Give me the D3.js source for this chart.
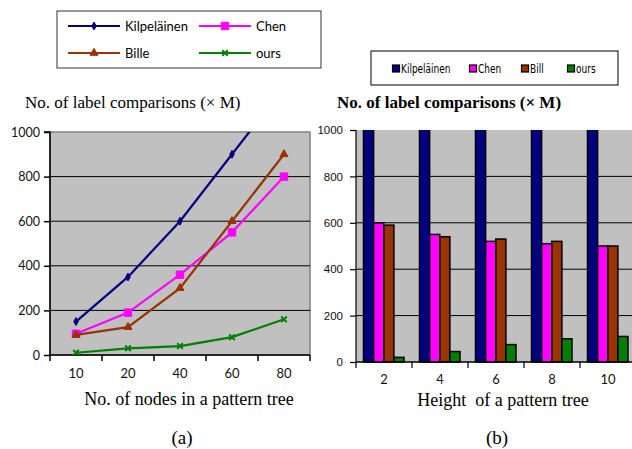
<!DOCTYPE html>
<html>
<head>
<meta charset="utf-8">
<script src="https://cdn.jsdelivr.net/npm/d3@7"></script>
<style>
  body { margin: 0; background: #fff; }
  .tick text { fill: #111; }
</style>
</head>
<body>
<script>

// Chart (a) data
const nodeLabels = ['10', '20', '40', '60', '80']
const kilpelainenA = [150, 350, 600, 900, 1200]
const chenA = [95, 190, 360, 550, 800]
const billeA = [90, 125, 300, 600, 900]
const oursA = [10, 30, 40, 80, 160]

// Chart (b) data
const heightLabels = ['2', '4', '6', '8', '10']
const kilpelainenB = [1200, 1200, 1200, 1200, 1200]
const chenB = [600, 550, 520, 510, 500]
const billB = [590, 540, 530, 520, 500]
const oursB = [20, 45, 75, 100, 110]

const yTicks = [0, 200, 400, 600, 800, 1000]

const seriesA = [
    { name: 'Kilpeläinen', values: kilpelainenA, color: '#000080', symbol: d3.symbolDiamond, size: 18 },
    { name: 'Chen', values: chenA, color: '#ff00ff', symbol: d3.symbolSquare, size: 55 },
    { name: 'Bille', values: billeA, color: '#993300', symbol: d3.symbolTriangle, size: 28 },
    { name: 'ours', values: oursA, color: '#008000', symbol: d3.symbolTimes, size: 22 }
]

const seriesB = [
    { name: 'Kilpeläinen', values: kilpelainenB, color: '#000080' },
    { name: 'Chen', values: chenB, color: '#ff00ff' },
    { name: 'Bill', values: billB, color: '#993300' },
    { name: 'ours', values: oursB, color: '#008000' }
]

const w = 632
const h = 449
const serif = "'Liberation Serif', serif"
const sans = "Lato, sans-serif"

const svg = d3.select('body')
    .append('svg')
        .attr('width', w)
        .attr('height', h)

// ---------- Chart (a): line chart ----------

const plotA = { left: 50, right: 310, top: 132, bottom: 355 }

const xA = d3.scaleBand()
    .domain(nodeLabels)
    .range([plotA.left, plotA.right])

const yA = d3.scaleLinear()
    .domain([0, 1000])
    .range([plotA.bottom, plotA.top])

svg.append('clipPath')
    .attr('id', 'clip-a')
    .append('rect')
        .attr('x', plotA.left)
        .attr('y', plotA.top)
        .attr('width', plotA.right - plotA.left)
        .attr('height', plotA.bottom - plotA.top)

svg.append('rect')
    .attr('x', plotA.left)
    .attr('y', plotA.top)
    .attr('width', plotA.right - plotA.left)
    .attr('height', plotA.bottom - plotA.top)
    .attr('fill', '#c0c0c0')
    .attr('stroke', '#808080')
    .attr('stroke-width', 1.5)

svg.append('g')
    .selectAll('line')
    .data(yTicks.filter(t => t > 0 && t < 1000))
    .enter()
    .append('line')
        .attr('x1', plotA.left)
        .attr('x2', plotA.right)
        .attr('y1', d => yA(d))
        .attr('y2', d => yA(d))
        .attr('stroke', '#000')
        .attr('stroke-width', 1)

const yAxisA = svg.append('g')
    .attr('transform', `translate(${plotA.left}, 0)`)
    .call(d3.axisLeft(yA).tickValues(yTicks).tickFormat(d3.format('d')).tickSize(6).tickPadding(4))
yAxisA.selectAll('text').style('font-family', sans).style('font-size', '12.5px')
yAxisA.selectAll('line, path').attr('stroke', '#000').attr('stroke-width', 1.5)
yAxisA.select('.domain').attr('d', `M-6,${plotA.top}H0V${plotA.bottom}`)

const xAxisA = svg.append('g')
    .attr('transform', `translate(0, ${plotA.bottom})`)
    .call(d3.axisBottom(xA).tickSize(0).tickPadding(14))
xAxisA.selectAll('text').style('font-family', sans).style('font-size', '13px')
xAxisA.select('.domain').attr('stroke', '#000').attr('stroke-width', 1.5)
    .attr('d', `M${plotA.left},0H${plotA.right}`)
xAxisA.selectAll('.band-tick')
    .data(d3.range(nodeLabels.length + 1))
    .enter()
    .append('line')
        .attr('class', 'band-tick')
        .attr('x1', i => plotA.left + i * xA.step())
        .attr('x2', i => plotA.left + i * xA.step())
        .attr('y1', 0)
        .attr('y2', 6)
        .attr('stroke', '#000')
        .attr('stroke-width', 1.5)

const line = d3.line()
    .x((d, i) => xA(nodeLabels[i]) + xA.bandwidth() / 2)
    .y(d => yA(d))

const linesA = svg.append('g').attr('clip-path', 'url(#clip-a)')

seriesA.forEach(s => {
    linesA.append('path')
        .datum(s.values)
        .attr('d', line)
        .attr('fill', 'none')
        .attr('stroke', s.color)
        .attr('stroke-width', 2.2)

    linesA.selectAll(null)
        .data(s.values)
        .enter()
        .append('path')
            .attr('transform', (d, i) => `translate(${xA(nodeLabels[i]) + xA.bandwidth() / 2}, ${yA(d)})`)
            .attr('d', d3.symbol().type(s.symbol).size(s.size))
            .attr('fill', s.symbol === d3.symbolTimes ? 'none' : s.color)
            .attr('stroke', s.color)
            .attr('stroke-width', s.symbol === d3.symbolTimes ? 2 : 1)
})

svg.append('text')
    .attr('x', 25)
    .attr('y', 108)
    .style('font-family', serif)
    .style('font-size', '17px')
    .text('No. of label comparisons (× M)')

svg.append('text')
    .attr('x', 189)
    .attr('y', 405)
    .attr('text-anchor', 'middle')
    .style('font-family', serif)
    .style('font-size', '18px')
    .text('No. of nodes in a pattern tree')

svg.append('text')
    .attr('x', 182)
    .attr('y', 444)
    .attr('text-anchor', 'middle')
    .style('font-family', serif)
    .style('font-size', '19px')
    .text('(a)')

// legend (a)
const legendA = svg.append('g')
legendA.append('rect')
    .attr('x', 57)
    .attr('y', 11)
    .attr('width', 264)
    .attr('height', 57)
    .attr('fill', '#fff')
    .attr('stroke', '#333')
    .attr('stroke-width', 1)

const legendItemsA = legendA.selectAll('.legend-item')
    .data(seriesA)
    .enter()
    .append('g')
        .attr('class', 'legend-item')
        .attr('transform', (d, i) => `translate(${i % 2 === 0 ? 68 : 199}, ${i < 2 ? 26 : 53})`)

legendItemsA.append('line')
    .attr('x1', 0)
    .attr('x2', 52)
    .attr('stroke', d => d.color)
    .attr('stroke-width', 2.2)
legendItemsA.append('path')
    .attr('transform', 'translate(26, 0)')
    .attr('d', d => d3.symbol().type(d.symbol).size(d.size)())
    .attr('fill', d => d.symbol === d3.symbolTimes ? 'none' : d.color)
    .attr('stroke', d => d.color)
    .attr('stroke-width', d => d.symbol === d3.symbolTimes ? 2 : 1)
legendItemsA.append('text')
    .attr('x', 57)
    .attr('dy', '0.35em')
    .style('font-family', sans)
    .style('font-size', '13px')
    .text(d => d.name)

// ---------- Chart (b): bar chart ----------

const plotB = { left: 356, right: 636, top: 130, bottom: 362 }

const xB = d3.scaleBand()
    .domain(heightLabels)
    .range([plotB.left, plotB.right])

const xInner = d3.scaleBand()
    .domain(seriesB.map(s => s.name))
    .range([7.5, 48])

const yB = d3.scaleLinear()
    .domain([0, 1000])
    .range([plotB.bottom, plotB.top])

svg.append('clipPath')
    .attr('id', 'clip-b')
    .append('rect')
        .attr('x', plotB.left)
        .attr('y', plotB.top)
        .attr('width', plotB.right - plotB.left)
        .attr('height', plotB.bottom - plotB.top + 2)

svg.append('rect')
    .attr('x', plotB.left)
    .attr('y', plotB.top)
    .attr('width', plotB.right - plotB.left)
    .attr('height', plotB.bottom - plotB.top)
    .attr('fill', '#c0c0c0')

svg.append('g')
    .selectAll('line')
    .data(yTicks.filter(t => t > 0 && t < 1000))
    .enter()
    .append('line')
        .attr('x1', plotB.left)
        .attr('x2', plotB.right)
        .attr('y1', d => yB(d))
        .attr('y2', d => yB(d))
        .attr('stroke', '#000')
        .attr('stroke-width', 1)

const bars = svg.append('g').attr('clip-path', 'url(#clip-b)')
seriesB.forEach(s => {
    bars.selectAll(null)
        .data(s.values)
        .enter()
        .append('rect')
            .attr('x', (d, i) => xB(heightLabels[i]) + xInner(s.name))
            .attr('y', d => yB(d))
            .attr('width', xInner.bandwidth())
            .attr('height', d => yB(0) - yB(d))
            .attr('fill', s.color)
            .attr('stroke', '#000')
            .attr('stroke-width', 1.5)
})

const yAxisB = svg.append('g')
    .attr('transform', `translate(${plotB.left}, 0)`)
    .call(d3.axisLeft(yB).tickValues(yTicks).tickFormat(d3.format('d')).tickSize(6).tickPadding(7))
yAxisB.selectAll('text').style('font-family', "'Liberation Sans', sans-serif").style('font-size', '11.5px')
yAxisB.selectAll('line, path').attr('stroke', '#000').attr('stroke-width', 1.2)
yAxisB.select('.domain').attr('d', `M0,${plotB.top}V${plotB.bottom}`)

const xAxisB = svg.append('g')
    .attr('transform', `translate(0, ${plotB.bottom})`)
    .call(d3.axisBottom(xB).tickSize(0).tickPadding(13))
xAxisB.selectAll('text').style('font-family', sans).style('font-size', '13px')
xAxisB.select('.domain').attr('stroke', '#000').attr('stroke-width', 1.5)
    .attr('d', `M${plotB.left},0H${plotB.right}`)
xAxisB.selectAll('.band-tick')
    .data(d3.range(heightLabels.length + 1))
    .enter()
    .append('line')
        .attr('class', 'band-tick')
        .attr('x1', i => plotB.left + i * xB.step())
        .attr('x2', i => plotB.left + i * xB.step())
        .attr('y1', 0)
        .attr('y2', 6)
        .attr('stroke', '#000')
        .attr('stroke-width', 1.2)

svg.append('text')
    .attr('x', 337)
    .attr('y', 108)
    .style('font-family', serif)
    .style('font-size', '17px')
    .style('font-weight', 'bold')
    .text('No. of label comparisons (× M)')

svg.append('text')
    .attr('x', 503)
    .attr('y', 406)
    .attr('text-anchor', 'middle')
    .attr('xml:space', 'preserve')
    .style('font-family', serif)
    .style('font-size', '18px')
    .style('white-space', 'pre')
    .text('Height  of a pattern tree')

svg.append('text')
    .attr('x', 497)
    .attr('y', 444)
    .attr('text-anchor', 'middle')
    .style('font-family', serif)
    .style('font-size', '19px')
    .text('(b)')

// legend (b)
const legendB = svg.append('g')
legendB.append('rect')
    .attr('x', 371)
    .attr('y', 51)
    .attr('width', 247)
    .attr('height', 34)
    .attr('fill', '#fff')
    .attr('stroke', '#000')
    .attr('stroke-width', 1)

const legendXB = [396, 473, 525, 571]
const legendItemsB = legendB.selectAll('.legend-item-b')
    .data(seriesB)
    .enter()
    .append('g')
        .attr('class', 'legend-item-b')
        .attr('transform', (d, i) => `translate(${legendXB[i]}, 69)`)

legendItemsB.append('rect')
    .attr('x', -3.5)
    .attr('y', -4)
    .attr('width', 7)
    .attr('height', 7)
    .attr('fill', d => d.color)
    .attr('stroke', '#000')
    .attr('stroke-width', 1.2)
// narrow legend font, squeezed horizontally
legendItemsB.append('text')
    .attr('transform', 'translate(5, 0) scale(0.72, 1)')
    .attr('dy', '0.35em')
    .style('font-family', "'DejaVu Sans', sans-serif")
    .style('font-size', '12.5px')
    .text(d => d.name)

</script>
</body>
</html>
